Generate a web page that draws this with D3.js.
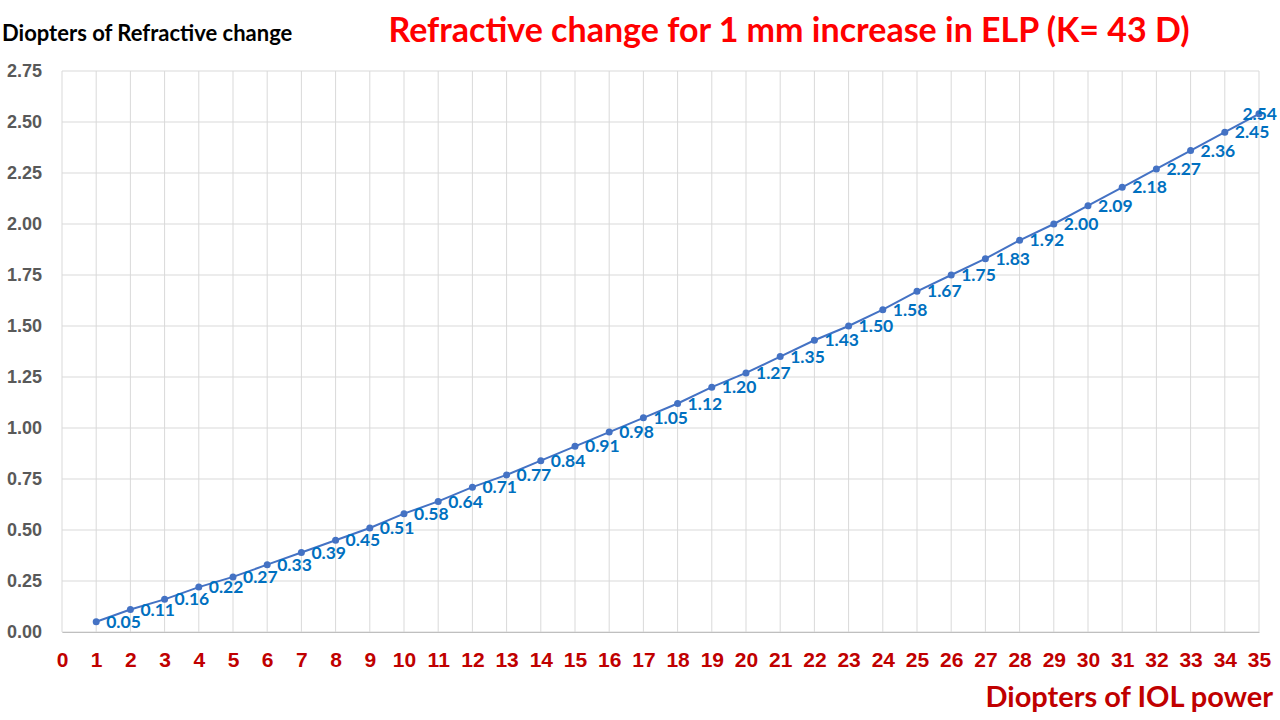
<!DOCTYPE html>
<html>
<head>
<meta charset="utf-8">
<script src="https://cdn.jsdelivr.net/npm/d3@7"></script>
<style>
  body { margin: 0; background: #fff; }
  svg { font-family: Lato, "Open Sans", sans-serif; }
</style>
</head>
<body>
<script>
// IOL power (D) and refractive change (D) per 1 mm ELP shift
const iolPower = d3.range(1, 36);
const refractiveChange = [0.05, 0.11, 0.16, 0.22, 0.27, 0.33, 0.39, 0.45, 0.51, 0.58,
    0.64, 0.71, 0.77, 0.84, 0.91, 0.98, 1.05, 1.12, 1.20, 1.27,
    1.35, 1.43, 1.50, 1.58, 1.67, 1.75, 1.83, 1.92, 2.00, 2.09,
    2.18, 2.27, 2.36, 2.45, 2.54];
const xTicks = d3.range(0, 36);
const yTicks = [0, 0.25, 0.5, 0.75, 1, 1.25, 1.5, 1.75, 2, 2.25, 2.5, 2.75];

const data = iolPower.map((p, i) => ({ p: p, v: refractiveChange[i] }));

const width = 1280;
const height = 720;
const marginTop = 71;
const marginRight = 21;
const marginBottom = 88;
const marginLeft = 62;

const x = d3.scaleLinear()
    .domain([0, 35])
    .range([marginLeft, width - marginRight]);

const y = d3.scaleLinear()
    .domain([0, 2.75])
    .range([height - marginBottom, marginTop]);

const svg = d3.select("body").append("svg")
    .attr("width", width)
    .attr("height", height)
    .attr("viewBox", [0, 0, width, height]);

// gridlines
svg.append("g")
    .attr("stroke", "#d9d9d9")
    .attr("stroke-width", 1)
    .call(g => g.selectAll("line.v")
        .data(xTicks)
        .join("line")
        .attr("x1", d => x(d)).attr("x2", d => x(d))
        .attr("y1", y(0)).attr("y2", y(2.75)))
    .call(g => g.selectAll("line.h")
        .data(yTicks)
        .join("line")
        .attr("class", "h")
        .attr("x1", x(0)).attr("x2", x(35))
        .attr("y1", d => y(d)).attr("y2", d => y(d)));

// x axis
svg.append("g")
    .attr("transform", `translate(0,${y(0)})`)
    .call(d3.axisBottom(x).tickValues(xTicks).tickSize(0).tickPadding(20))
    .call(g => g.select(".domain").attr("stroke", "#bfbfbf"))
    .call(g => g.selectAll("text")
        .attr("fill", "#c00000")
        .style("font-size", "21px")
        .style("font-weight", "bold"));

// y axis
svg.append("g")
    .attr("transform", `translate(${marginLeft},0)`)
    .call(d3.axisLeft(y).tickValues(yTicks).tickFormat(d3.format(".2f")).tickSize(0).tickPadding(20))
    .call(g => g.select(".domain").remove())
    .call(g => g.selectAll("text")
        .attr("fill", "#595959")
        .style("font-size", "18px")
        .style("font-weight", "bold"));

// line
const line = d3.line()
    .x(d => x(d.p))
    .y(d => y(d.v));

svg.append("path")
    .datum(data)
    .attr("fill", "none")
    .attr("stroke", "#4472c4")
    .attr("stroke-width", 2)
    .attr("d", line);

svg.append("g")
    .attr("fill", "#4472c4")
    .selectAll("circle")
    .data(data)
    .join("circle")
    .attr("cx", d => x(d.p))
    .attr("cy", d => y(d.v))
    .attr("r", 3.5);

// data labels (the last one is pushed back inside the chart)
svg.append("g")
    .attr("fill", "#0070c0")
    .style("font-size", "17.5px")
    .style("font-weight", "bold")
    .selectAll("text")
    .data(data)
    .join("text")
    .attr("x", (d, i) => i === data.length - 1 ? width - 3 : x(d.p) + 10)
    .attr("text-anchor", (d, i) => i === data.length - 1 ? "end" : "start")
    .attr("y", d => y(d.v))
    .attr("dy", "0.35em")
    .text(d => d.v.toFixed(2));

// titles
svg.append("text")
    .attr("x", 789)
    .attr("y", 42)
    .attr("text-anchor", "middle")
    .attr("fill", "#ff0000")
    .style("font-size", "34px")
    .style("font-weight", "bold")
    .text("Refractive change for 1 mm increase in ELP (K= 43 D)");

svg.append("text")
    .attr("x", 2)
    .attr("y", 41)
    .attr("fill", "#000")
    .style("font-size", "22px")
    .style("font-weight", "bold")
    .text("Diopters of Refractive change");

svg.append("text")
    .attr("x", 1273)
    .attr("y", 707)
    .attr("text-anchor", "end")
    .attr("fill", "#c00000")
    .style("font-size", "29px")
    .style("font-weight", "bold")
    .text("Diopters of IOL power");
</script>
</body>
</html>
